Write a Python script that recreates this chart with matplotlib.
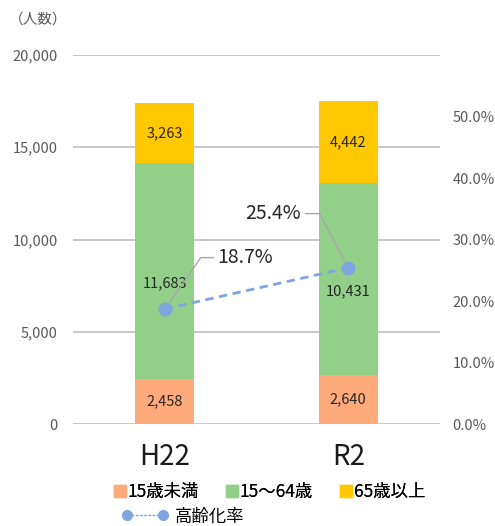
import matplotlib
matplotlib.use("Agg")
import numpy as np
import matplotlib.pyplot as plt
from matplotlib.lines import Line2D
from matplotlib.legend_handler import HandlerLine2D
from matplotlib.ticker import FuncFormatter

plt.rcParams['font.family'] = ['Noto Sans CJK JP', 'DejaVu Sans']

# データ
years = ['H22', 'R2']
under15 = [2458, 2640]
age15_64 = [11683, 10431]
over65 = [3263, 4442]
aging_rate = [18.7, 25.4]
series_names = ['15歳未満', '15～64歳', '65歳以上', '高齢化率']

c_orange = '#FFAA7A'
c_green = '#92D08A'
c_yellow = '#FFC800'
c_line = '#7FA5E0'
c_grid = '#BFBFBF'
c_tick = '#595959'

fig = plt.figure(figsize=(4.95, 5.26), dpi=100)
ax = fig.add_axes([0.1475, 0.1939, 0.7415, 0.7015])

x = np.arange(len(years))
w = 0.32
under15 = np.array(under15)
age15_64 = np.array(age15_64)
over65 = np.array(over65)

ax.bar(x, under15, w, color=c_orange, zorder=2)
ax.bar(x, age15_64, w, bottom=under15, color=c_green, zorder=2)
ax.bar(x, over65, w, bottom=under15 + age15_64, color=c_yellow, zorder=2)

# 棒の中のラベル
segs = [(np.zeros(2), under15, 0), (under15, age15_64, -9), (under15 + age15_64, over65, 0)]
for bottom, vals, dy in segs:
    for xi, b, v in zip(x, bottom, vals):
        ax.annotate(f'{int(v):,}', xy=(xi, b + v / 2), xytext=(0, dy),
                    textcoords='offset points', ha='center', va='center',
                    fontsize=10.5, color='#262626', zorder=4)

ax.set_ylim(0, 20000)
ax.set_xlim(-0.5, 1.5)
ax.set_yticks(np.arange(0, 20001, 5000))
ax.yaxis.set_major_formatter(FuncFormatter(lambda v, p: f'{int(v):,}'))
ax.set_xticks(x)
ax.set_xticklabels(years, fontsize=20, color='#1a1a1a')
ax.tick_params(axis='y', length=0, pad=11, labelsize=10.5, labelcolor=c_tick)
ax.tick_params(axis='x', length=0, pad=13)
ax.grid(axis='y', color=c_grid, lw=1.2, zorder=0)
for s in ax.spines.values():
    s.set_visible(False)

ax2 = ax.twinx()
ax2.set_ylim(0, 60)
ax2.set_yticks(np.arange(0, 51, 10))
ax2.yaxis.set_major_formatter(FuncFormatter(lambda v, p: f'{v:.1f}%'))
ax2.tick_params(axis='y', length=0, pad=9, labelsize=10.5, labelcolor=c_tick)
for s in ax2.spines.values():
    s.set_visible(False)

ax2.plot(x, aging_rate, color=c_line, lw=2, ls=(0, (3, 2)), marker='o',
         markersize=9, markerfacecolor=c_line, markeredgecolor=c_line, zorder=3)

# ラベル（引き出し線付き）
ax2.annotate(f'{aging_rate[0]:.1f}%', xy=(x[0], aging_rate[0]), xytext=(38, 37),
             textcoords='offset points', fontsize=14, color='#262626',
             ha='left', va='center',
             arrowprops=dict(arrowstyle='-', color='#A6A6A6', lw=1,
                             relpos=(0, 0.5), shrinkA=1, shrinkB=6,
                             connectionstyle='angle,angleA=0,angleB=55,rad=0'))
ax2.annotate(f'{aging_rate[1]:.1f}%', xy=(x[1], aging_rate[1]), xytext=(-34, 39),
             textcoords='offset points', fontsize=14, color='#262626',
             ha='right', va='center',
             arrowprops=dict(arrowstyle='-', color='#A6A6A6', lw=1,
                             relpos=(1, 0.5), shrinkA=1, shrinkB=6,
                             connectionstyle='angle,angleA=0,angleB=118,rad=0'))

fig.text(0.018, 0.962, '（人数）', fontsize=10.5, color=c_tick, ha='left', va='center')

# 凡例
sq = [Line2D([], [], ls='none', marker='s', markersize=9, color=c)
      for c in (c_orange, c_green, c_yellow)]
leg1 = fig.legend(sq, series_names[:3], loc='center', bbox_to_anchor=(0.545, 0.064),
                  ncol=3, frameon=False, fontsize=12.5, handlelength=0.6,
                  handletextpad=0.15, columnspacing=1.6, borderpad=0)
fig.add_artist(leg1)
ln = Line2D([], [], color=c_line, lw=1, ls=(0, (2, 1)), marker='o', markersize=7)
fig.legend([ln], [series_names[3]], loc='center left', bbox_to_anchor=(0.228, 0.018),
           frameon=False, fontsize=12.5, handlelength=2.7, handletextpad=0.4,
           borderpad=0, handler_map={ln: HandlerLine2D(numpoints=2)})

fig.savefig('out.png', dpi=100)
